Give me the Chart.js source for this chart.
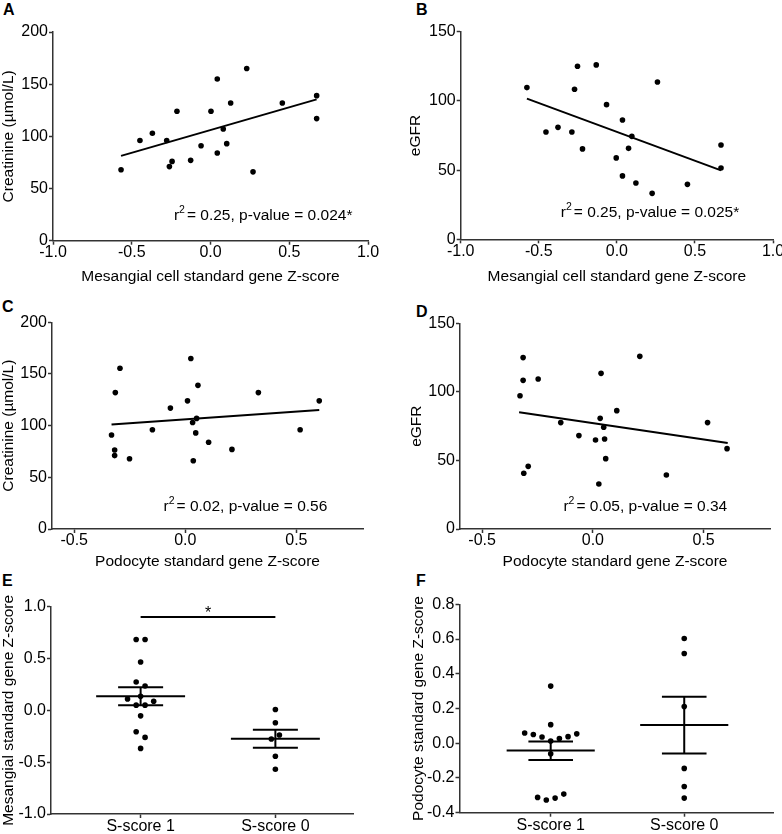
<!DOCTYPE html>
<html>
<head>
<meta charset="utf-8">
<script src="https://cdn.jsdelivr.net/npm/chart.js@4.4.1/dist/chart.umd.min.js"></script>
<style>
  html, body { margin: 0; padding: 0; background: #fff; }
  body { position: relative; width: 782px; height: 834px; overflow: hidden; font-family: 'Liberation Sans', Arial, sans-serif; }
  canvas { position: absolute; }
  .tag { position: absolute; font-weight: bold; font-size: 16px; line-height: 16px; color: #000; }
</style>
</head>
<body>
<div class="tag" style="left:3px;top:2px">A</div>
<div class="tag" style="left:416px;top:2px">B</div>
<div class="tag" style="left:2px;top:299px">C</div>
<div class="tag" style="left:416px;top:304px">D</div>
<div class="tag" style="left:2px;top:573px">E</div>
<div class="tag" style="left:416px;top:573px">F</div>

<canvas id="chartA" width="390" height="290" style="left:0;top:0"></canvas>
<canvas id="chartB" width="410" height="290" style="left:390px;top:0"></canvas>
<canvas id="chartC" width="390" height="282" style="left:0;top:290px"></canvas>
<canvas id="chartD" width="410" height="282" style="left:390px;top:290px"></canvas>
<canvas id="chartE" width="390" height="262" style="left:0;top:572px"></canvas>
<canvas id="chartF" width="410" height="262" style="left:390px;top:572px"></canvas>

<script>
// ---- data ----
// A: creatinine vs mesangial Z-score
const aX = [-0.568, -0.448, -0.369, -0.278, -0.261, -0.244, -0.213, -0.126, -0.060, 0.003,
            0.043, 0.043, 0.081, 0.103, 0.128, 0.230, 0.270, 0.456, 0.674, 0.674];
const aY = [68, 96, 103, 96, 71, 76, 124, 77, 91, 124,
            155, 84, 107, 93, 132, 165, 66, 132, 139, 117];
const aFitX = [-0.568, 0.674];
const aFitY = [81.3, 135.4];

// B: eGFR vs mesangial Z-score
const bX = [-0.576, -0.454, -0.377, -0.288, -0.271, -0.252, -0.220, -0.132, -0.066, -0.004,
            0.036, 0.036, 0.075, 0.096, 0.122, 0.226, 0.260, 0.452, 0.667, 0.667];
const bY = [109.6, 77.5, 80.9, 77.5, 108.4, 125, 65.3, 126, 97.3, 58.8,
            86.2, 45.8, 65.7, 74.4, 40.7, 33.2, 113.7, 39.7, 68.1, 51.5];
const bFitX = [-0.576, 0.667];
const bFitY = [101.6, 49.8];

// C: creatinine vs podocyte Z-score
const cX = [-0.332, -0.318, -0.318, -0.315, -0.294, -0.251, -0.148, -0.067, 0.010, 0.025,
            0.033, 0.036, 0.047, 0.051, 0.057, 0.105, 0.210, 0.329, 0.517, 0.603];
const cY = [91, 76.5, 71, 132, 155.5, 68, 96, 117, 124, 165,
            103, 66, 93, 107, 139, 84, 77, 132, 96, 124];
const cFitX = [-0.332, 0.603];
const cFitY = [101, 115.2];

// D: eGFR vs podocyte Z-score
const dX = [-0.329, -0.315, -0.315, -0.312, -0.292, -0.247, -0.145, -0.063, 0.012, 0.027,
            0.033, 0.037, 0.049, 0.053, 0.058, 0.108, 0.212, 0.332, 0.518, 0.606];
const dY = [97.2, 125, 108.4, 40.6, 45.7, 109.4, 77.6, 68.1, 64.9, 32.8,
            80.7, 113.5, 74.2, 65.6, 51.3, 86.3, 125.9, 39.4, 77.6, 58.6];
const dFitX = [-0.333, 0.609];
const dFitY = [85.1, 62.7];

const r2Vals = ['0.25', '0.25', '0.02', '0.05'];
const pVals = ['0.024*', '0.025*', '0.56', '0.34'];

// E / F: groups
const groups = ['S-score 1', 'S-score 0'];

const eS1Y = [0.683, 0.683, 0.466, 0.274, 0.235, 0.110, 0.136, 0.050, 0.050, 0.088, -0.053, -0.206, -0.261, -0.367];
const eS1Dx = [-0.033, 0.033, 0, -0.033, 0.033, -0.097, 0, -0.033, 0.033, 0.097, 0, -0.033, 0.033, 0];
const eS0Y = [0.008, -0.120, -0.238, -0.277, -0.443, -0.568];
const eS0Dx = [0, 0, 0.03, -0.03, 0, 0];
const eMean = [0.136, -0.274];
const eSemHi = [0.222, -0.187];
const eSemLo = [0.050, -0.360];

const fS1Y = [0.329, 0.107, 0.059, 0.050, 0.036, 0.013, 0.027, 0.038, 0.054, -0.061, -0.312, -0.327, -0.316, -0.293];
const fS1Dx = [0, 0, -0.195, -0.13, -0.065, 0, 0.065, 0.13, 0.195, 0, -0.098, -0.033, 0.033, 0.098];
const fS0Y = [0.603, 0.517, 0.211, -0.145, -0.249, -0.316];
const fS0Dx = [0, 0, 0, 0, 0, 0];
const fMean = [-0.042, 0.105];
const fSemHi = [0.0096, 0.268];
const fSemLo = [-0.096, -0.059];

// tick values
const mesTicks = [-1, -0.5, 0, 0.5, 1];
const podTicks = [-0.5, 0, 0.5];
const creatTicks = [0, 50, 100, 150, 200];
const egfrTicks = [0, 50, 100, 150];
const eTicks = [-1, -0.5, 0, 0.5, 1];
const fTicks = [-0.4, -0.2, 0, 0.2, 0.4, 0.6, 0.8];

// ---- helpers ----
const FONT = "'Liberation Sans', Arial, sans-serif";
Chart.defaults.font.family = FONT;
Chart.defaults.font.size = 15;
Chart.defaults.color = '#000';
Chart.defaults.animation = false;

const AXIS_COL = '#333';
const MEAN_HALF = 0.33;
const CAP_HALF = 0.167;

function toPts(xs, ys) {
    return xs.map((x, i) => ({ x: x, y: ys[i] }));
}

function seg(xs, ys) {
    return { data: toPts(xs, ys), showLine: true, borderColor: '#000', borderWidth: 2, pointRadius: 0 };
}

function dots(xs, ys) {
    return { data: toPts(xs, ys), pointRadius: 2.8, pointBackgroundColor: '#000', pointBorderWidth: 0 };
}

function axis(o) {
    return {
        type: 'linear',
        min: o.min,
        max: o.max,
        border: { color: AXIS_COL, width: 1.5 },
        grid: { drawOnChartArea: false, drawTicks: true, tickLength: 4, tickColor: AXIS_COL, tickWidth: 1.5 },
        afterBuildTicks: (s) => { s.ticks = o.ticks.map(v => ({ value: v })); },
        ticks: { padding: o.pad, font: { size: 16, lineHeight: 1 }, callback: o.fmt },
        title: {
            display: !!o.title,
            text: o.title,
            font: { size: 15.5, lineHeight: 1 },
            padding: o.titlePad
        },
        afterFit: (s) => {
            if (o.width !== undefined) s.width = o.width;
            if (o.height !== undefined) s.height = o.height;
        }
    };
}

// draws text notes anchored in data units
function notes(items) {
    return {
        id: 'notes',
        afterDatasetsDraw(chart) {
            const ctx = chart.ctx;
            const xs = chart.scales.x, ys = chart.scales.y;
            ctx.save();
            ctx.fillStyle = '#000';
            ctx.textBaseline = 'alphabetic';
            ctx.textAlign = 'left';
            items.forEach(it => {
                let px = xs.getPixelForValue(it.x);
                const py = ys.getPixelForValue(it.y);
                if (it.r2) {
                    ctx.font = '15.5px ' + FONT;
                    ctx.fillText('r', px, py);
                    px += ctx.measureText('r').width;
                    ctx.font = '10.5px ' + FONT;
                    ctx.fillText('2', px, py - 7);
                    px += ctx.measureText('2').width + 2;
                    ctx.font = '15.5px ' + FONT;
                    ctx.fillText('= ' + it.r2 + ', p-value = ' + it.p, px, py);
                } else {
                    ctx.font = it.font;
                    ctx.textAlign = 'center';
                    ctx.fillText(it.text, px, py);
                }
            });
            ctx.restore();
        }
    };
}

const fmt1 = (v) => v.toFixed(1);
const fmt0 = (v) => String(v);
const fmtCat = (v) => groups[v - 1];

function scatterPanel(id, o) {
    new Chart(document.getElementById(id), {
        type: 'scatter',
        data: { datasets: [dots(o.xs, o.ys), seg(o.fitX, o.fitY)] },
        options: {
            responsive: false,
            animation: false,
            layout: { padding: { top: o.top, right: o.right, left: 0, bottom: 0 } },
            plugins: { legend: { display: false }, tooltip: { enabled: false } },
            scales: {
                x: axis({ min: o.xMin, max: o.xMax, ticks: o.xTicks, fmt: fmt1, pad: 0,
                          title: o.xTitle, titlePad: { top: 0, bottom: o.xTitlePad }, height: o.xH }),
                y: axis({ min: o.yTicks[0], max: o.yTicks[o.yTicks.length - 1], ticks: o.yTicks, fmt: fmt0, pad: 1,
                          title: o.yTitle, titlePad: { top: o.yTitlePad, bottom: 0 }, width: o.yW })
            }
        },
        plugins: [notes([{ x: o.noteX, y: o.noteY, r2: o.r2, p: o.p }])]
    });
}

function groupLines(means, lo, hi) {
    const sets = [];
    means.forEach((m, i) => {
        const c = i + 1;
        sets.push(seg([c - MEAN_HALF, c + MEAN_HALF], [m, m]));
        sets.push(seg([c - CAP_HALF, c + CAP_HALF], [hi[i], hi[i]]));
        sets.push(seg([c - CAP_HALF, c + CAP_HALF], [lo[i], lo[i]]));
        sets.push(seg([c, c], [lo[i], hi[i]]));
    });
    return sets;
}

function groupPanel(id, o) {
    const s1x = o.s1Dx.map(d => 1 + d);
    const s0x = o.s0Dx.map(d => 2 + d);
    let sets = [dots(s1x, o.s1Y), dots(s0x, o.s0Y)].concat(groupLines(o.mean, o.lo, o.hi));
    if (o.sig) sets.push(seg([1, 2], [o.sig, o.sig]));
    new Chart(document.getElementById(id), {
        type: 'scatter',
        data: { datasets: sets },
        options: {
            responsive: false,
            animation: false,
            layout: { padding: { top: o.top, right: o.right, left: 0, bottom: 0 } },
            plugins: { legend: { display: false }, tooltip: { enabled: false } },
            scales: {
                x: axis({ min: o.xMin, max: o.xMax, ticks: [1, 2], fmt: fmtCat, pad: 1, height: o.xH }),
                y: axis({ min: o.yTicks[0], max: o.yTicks[o.yTicks.length - 1], ticks: o.yTicks, fmt: fmt1, pad: 1,
                          title: o.yTitle, titlePad: { top: o.yTitlePad, bottom: 0 }, width: o.yW })
            }
        },
        plugins: [notes(o.sig ? [{ x: 1.5, y: o.sig - 0.01, text: '*', font: '16px ' + FONT }] : [])]
    });
}

// ---- panels ----
scatterPanel('chartA', {
    xs: aX, ys: aY, fitX: aFitX, fitY: aFitY,
    xMin: -1, xMax: 1, xTicks: mesTicks, yTicks: creatTicks,
    xTitle: 'Mesangial cell standard gene Z-score', yTitle: 'Creatinine (µmol/L)',
    top: 32, right: 22, yW: 53, xH: 49.3, xTitlePad: 5.5, yTitlePad: 0.5,
    noteX: -0.232, noteY: 19.8, r2: r2Vals[0], p: pVals[0]
});

scatterPanel('chartB', {
    xs: bX, ys: bY, fitX: bFitX, fitY: bFitY,
    xMin: -1, xMax: 1, xTicks: mesTicks, yTicks: egfrTicks,
    xTitle: 'Mesangial cell standard gene Z-score', yTitle: 'eGFR',
    top: 31.7, right: 27, yW: 70.7, xH: 50.7, xTitlePad: 5.5, yTitlePad: 18.3,
    noteX: -0.359, noteY: 16.3, r2: r2Vals[1], p: pVals[1]
});

scatterPanel('chartC', {
    xs: cX, ys: cY, fitX: cFitX, fitY: cFitY,
    xMin: -0.6, xMax: 0.8, xTicks: podTicks, yTicks: creatTicks,
    xTitle: 'Podocyte standard gene Z-score', yTitle: 'Creatinine (µmol/L)',
    top: 32.3, right: 27, yW: 52, xH: 43, xTitlePad: 2.5, yTitlePad: 0.5,
    noteX: -0.098, noteY: 17.4, r2: r2Vals[2], p: pVals[2]
});

scatterPanel('chartD', {
    xs: dX, ys: dY, fitX: dFitX, fitY: dFitY,
    xMin: -0.6, xMax: 0.8, xTicks: podTicks, yTicks: egfrTicks,
    xTitle: 'Podocyte standard gene Z-score', yTitle: 'eGFR',
    top: 33.3, right: 30, yW: 70, xH: 43, xTitlePad: 2.5, yTitlePad: 18.5,
    noteX: -0.133, noteY: 13.1, r2: r2Vals[3], p: pVals[3]
});

groupPanel('chartE', {
    s1Y: eS1Y, s1Dx: eS1Dx, s0Y: eS0Y, s0Dx: eS0Dx,
    mean: eMean, lo: eSemLo, hi: eSemHi, sig: 0.9,
    xMin: 0.335, xMax: 2.576, yTicks: eTicks,
    yTitle: 'Mesangial standard gene Z-score',
    top: 34.7, right: 37, yW: 51, xH: 20, yTitlePad: 0.8
});

groupPanel('chartF', {
    s1Y: fS1Y, s1Dx: fS1Dx, s0Y: fS0Y, s0Dx: fS0Dx,
    mean: fMean, lo: fSemLo, hi: fSemHi, sig: null,
    xMin: 0.317, xMax: 2.667, yTicks: fTicks,
    yTitle: 'Podocyte standard gene Z-score',
    top: 32.3, right: 26.7, yW: 69.5, xH: 21.3, yTitlePad: 20.8
});
</script>
</body>
</html>
